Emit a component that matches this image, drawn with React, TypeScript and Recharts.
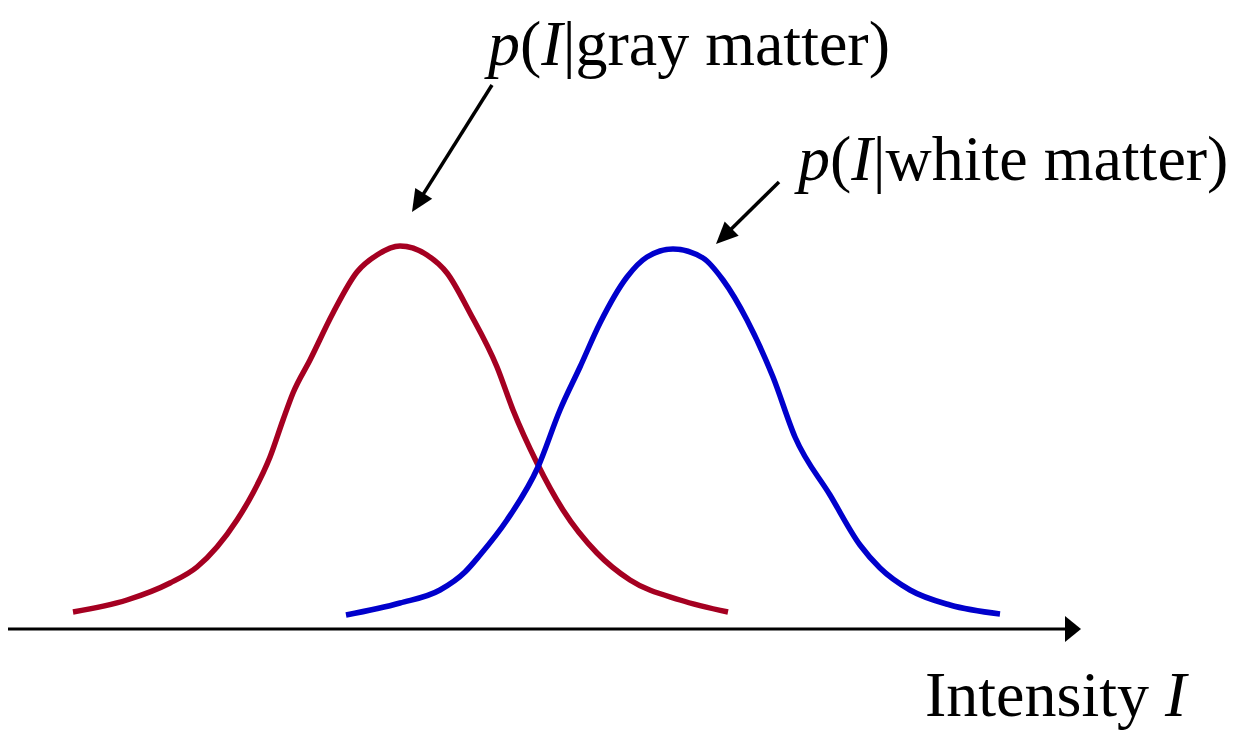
import React from "react";
import {
  LineChart,
  Line,
  XAxis,
  YAxis,
  ReferenceLine,
  ReferenceDot,
} from "recharts";

// intensity vs likelihood (arbitrary units)
const grayIntensity = [
  6.5, 11.9, 16.2, 18.9, 20.9, 22.9, 24.5, 26.2, 27.5, 28.5, 30.2, 32.5, 34.9,
  36.9, 39.2, 41.9, 43.9, 46.2, 48.9, 50.5, 52.9, 55.5, 58.9, 62.2, 67.2, 72.0,
];
const grayDensity = [
  4.25, 7.25, 11.5, 15.5, 20.5, 27.25, 34, 43, 52.25, 59, 67.25, 79, 89.25,
  93.5, 95.75, 93.5, 89, 79, 65.5, 54.75, 41.5, 29.75, 19, 12.25, 7.25, 4.25,
];

const whiteIntensity = [
  33.8, 39.2, 43.2, 45.7, 47.2, 49.9, 53.0, 55.2, 57.2, 59.2, 61.9, 63.9, 66.5,
  69.5, 71.5, 73.9, 76.5, 78.7, 82.2, 85.2, 87.2, 90.2, 94.2, 99.2,
];
const whiteDensity = [
  3.5, 6.5, 9.75, 14.25, 18.5, 27.25, 40.5, 54.75, 65.5, 76.5, 88, 93, 95,
  92.75, 87.25, 77.25, 63, 48, 33.5, 21, 15.25, 9.75, 6, 3.75,
];

// annotation arrows: [from, to] in chart units
const grayArrow = [
  { x: 48.4, y: 136 },
  { x: 40.4, y: 104.25 },
];
const whiteArrow = [
  { x: 77.1, y: 111.75 },
  { x: 70.8, y: 96.25 },
];
const grayLabelAt = { x: 48.0, y: 141 };
const whiteLabelAt = { x: 79.0, y: 112.25 };
const axisLabelAt = { x: 91.7, y: -21.75 };

const X_MAX = 106;

const grayData = grayIntensity.map((x, i) => ({ x, p: grayDensity[i] }));
const whiteData = whiteIntensity.map((x, i) => ({ x, p: whiteDensity[i] }));

const FONT = "'Liberation Serif', 'Times New Roman', Times, serif";

function ArrowShape(props: any) {
  const { x1, y1, x2, y2 } = props;
  const dx = x2 - x1;
  const dy = y2 - y1;
  const len = Math.sqrt(dx * dx + dy * dy) || 1;
  const ux = dx / len;
  const uy = dy / len;
  const headLen = 22;
  const headW = 10;
  const bx = x2 - ux * headLen;
  const by = y2 - uy * headLen;
  const pts = [
    [x2, y2],
    [bx - uy * headW, by + ux * headW],
    [bx + uy * headW, by - ux * headW],
  ]
    .map((p) => p.join(","))
    .join(" ");
  return (
    <g>
      <line
        x1={x1}
        y1={y1}
        x2={bx + ux * 2}
        y2={by + uy * 2}
        stroke="#000"
        strokeWidth={3.5}
      />
      <polygon points={pts} fill="#000" />
    </g>
  );
}

function AxisHead(props: any) {
  const { cx, cy } = props;
  return (
    <polygon
      points={`${cx - 3},${cy - 13} ${cx + 13},${cy} ${cx - 3},${cy + 13}`}
      fill="#000"
    />
  );
}

function makeLabel(what: string) {
  return function LabelShape(props: any) {
    const { cx, cy } = props;
    return (
      <text x={cx} y={cy} fontFamily={FONT} fontSize={64} fill="#000">
        <tspan fontStyle="italic">p</tspan>
        <tspan>(</tspan>
        <tspan fontStyle="italic">I</tspan>
        <tspan>{"|" + what + ")"}</tspan>
      </text>
    );
  };
}

function AxisTitle(props: any) {
  const { cx, cy } = props;
  return (
    <text x={cx} y={cy} fontFamily={FONT} fontSize={64} fill="#000">
      <tspan>{"Intensity\u00A0"}</tspan>
      <tspan fontStyle="italic">I</tspan>
    </text>
  );
}

export default function App() {
  return (
    <div style={{ position: "absolute", left: 0, top: 0, background: "#fff" }}>
      <LineChart
        width={1236}
        height={731}
        margin={{ top: 229, right: 168, left: 8, bottom: 101 }}
        style={{ overflow: "visible" }}
      >
        <XAxis
          type="number"
          dataKey="x"
          domain={[0, X_MAX]}
          tick={false}
          tickLine={false}
          axisLine={{ stroke: "#000", strokeWidth: 3 }}
          height={1}
          allowDataOverflow
        />
        <YAxis type="number" domain={[0, 100]} hide />
        <Line
          data={grayData}
          dataKey="p"
          type="monotone"
          stroke="#A50021"
          strokeWidth={5.5}
          dot={false}
          isAnimationActive={false}
        />
        <Line
          data={whiteData}
          dataKey="p"
          type="monotone"
          stroke="#0000CC"
          strokeWidth={5.5}
          dot={false}
          isAnimationActive={false}
        />
        <ReferenceDot
          x={X_MAX}
          y={0}
          r={0}
          ifOverflow="visible"
          shape={AxisHead}
        />
        <ReferenceLine
          segment={grayArrow}
          ifOverflow="visible"
          shape={ArrowShape}
        />
        <ReferenceLine
          segment={whiteArrow}
          ifOverflow="visible"
          shape={ArrowShape}
        />
        <ReferenceDot
          x={grayLabelAt.x}
          y={grayLabelAt.y}
          r={0}
          ifOverflow="visible"
          shape={makeLabel("gray matter")}
        />
        <ReferenceDot
          x={whiteLabelAt.x}
          y={whiteLabelAt.y}
          r={0}
          ifOverflow="visible"
          shape={makeLabel("white matter")}
        />
        <ReferenceDot
          x={axisLabelAt.x}
          y={axisLabelAt.y}
          r={0}
          ifOverflow="visible"
          shape={AxisTitle}
        />
      </LineChart>
    </div>
  );
}
